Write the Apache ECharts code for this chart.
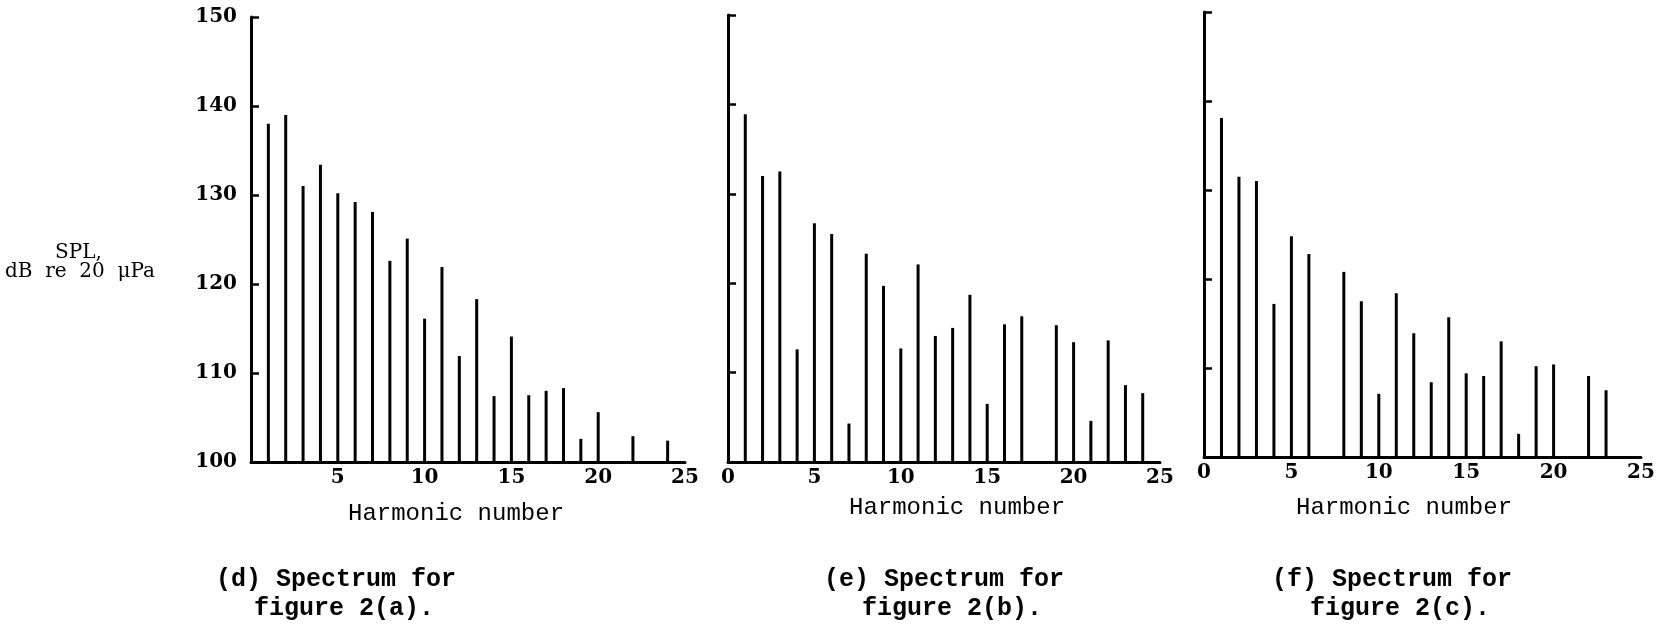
<!DOCTYPE html>
<html>
<head>
<meta charset="utf-8">
<script src="https://cdn.jsdelivr.net/npm/echarts@6/dist/echarts.min.js"></script>
<style>
  html, body { margin: 0; padding: 0; background: #fff; }
  #chart { width: 1668px; height: 624px; }
</style>
</head>
<body>
<div id="chart"></div>
<script>
// harmonic number / SPL (dB re 20 uPa)
const harmonicsD = [1, 2, 3, 4, 5, 6, 7, 8, 9, 10, 11, 12, 13, 14, 15, 16, 17, 18, 19, 20, 22, 24]
const splD = [138, 139, 131, 133.4, 130.2, 129.2, 128.1, 122.6, 125.1, 116.1, 121.9, 111.9, 118.3, 107.4, 114.1, 107.5, 108, 108.3, 102.6, 105.6, 102.9, 102.4]

const harmonicsE = [1, 2, 3, 4, 5, 6, 7, 8, 9, 10, 11, 12, 13, 14, 15, 16, 17, 19, 20, 21, 22, 23, 24]
const splE = [138.9, 132, 132.5, 112.6, 126.7, 125.5, 104.3, 123.3, 119.7, 112.7, 122.1, 114.1, 115, 118.7, 106.5, 115.4, 116.3, 115.3, 113.4, 104.6, 113.6, 108.6, 107.7]

const harmonicsF = [1, 2, 3, 4, 5, 6, 8, 9, 10, 11, 12, 13, 14, 15, 16, 17, 18, 19, 20, 22, 23]
const splF = [138.1, 131.5, 131, 117.2, 124.8, 122.8, 120.8, 117.5, 107.1, 118.4, 113.9, 108.4, 115.7, 109.4, 109.1, 113, 102.6, 110.2, 110.4, 109.1, 107.5]

const yTicks = [100, 110, 120, 130, 140, 150]
const xTicks = [0, 5, 10, 15, 20, 25]

const captions = [
  ['(d) Spectrum for', 'figure 2(a).'],
  ['(e) Spectrum for', 'figure 2(b).'],
  ['(f) Spectrum for', 'figure 2(c).']
]

const panels = [
  { x: harmonicsD, y: splD, grid: { left: 251, top: 17, width: 434, height: 445 } },
  { x: harmonicsE, y: splE, grid: { left: 728, top: 15, width: 432, height: 447 } },
  { x: harmonicsF, y: splF, grid: { left: 1204, top: 12, width: 437, height: 445 } }
]

const numFont = 'DejaVu Serif'
const monoFont = 'Liberation Mono'

// vertical spike from the 100 dB baseline up to the value
function spike (params, api) {
  const top = api.coord([api.value(0), api.value(1)])
  const base = api.coord([api.value(0), yTicks[0]])
  return {
    type: 'line',
    shape: { x1: top[0], y1: top[1], x2: base[0], y2: base[1] },
    style: { stroke: '#000', lineWidth: 3 }
  }
}

const chart = echarts.init(document.getElementById('chart'))

const options = {
  backgroundColor: '#fff',
  animation: false,
  grid: panels.map(p => p.grid),
  xAxis: panels.map((p, i) => ({
    type: 'value',
    gridIndex: i,
    min: xTicks[0],
    max: xTicks[xTicks.length - 1],
    interval: xTicks[1] - xTicks[0],
    splitLine: { show: false },
    axisTick: { show: false },
    axisLine: { show: true, lineStyle: { color: '#000', width: 3 } },
    axisLabel: {
      color: '#000',
      fontFamily: numFont,
      fontWeight: 'bold',
      fontSize: 20,
      margin: 6,
      formatter: v => (i === 0 && v === 0 ? '' : String(v))
    }
  })),
  yAxis: panels.map((p, i) => ({
    type: 'value',
    gridIndex: i,
    min: yTicks[0],
    max: yTicks[yTicks.length - 1],
    interval: yTicks[1] - yTicks[0],
    splitLine: { show: false },
    axisTick: { show: true, inside: true, length: 8, lineStyle: { color: '#000', width: 2.5 } },
    axisLine: { show: true, lineStyle: { color: '#000', width: 3 } },
    axisLabel: {
      show: i === 0,
      color: '#000',
      fontFamily: numFont,
      fontWeight: 'bold',
      fontSize: 20,
      margin: 14
    }
  })),
  series: panels.map((p, i) => ({
    type: 'custom',
    xAxisIndex: i,
    yAxisIndex: i,
    renderItem: spike,
    data: p.x.map((h, k) => [h, p.y[k]])
  })),
  graphic: [
    {
      type: 'text', left: 55, top: 243,
      style: { text: 'SPL,', fill: '#000', font: '20px "DejaVu Serif"' }
    },
    {
      type: 'text', left: 5, top: 262,
      style: { text: 'dB  re  20  \u03bcPa', fill: '#000', font: '20px "DejaVu Serif"' }
    },
    { type: 'text', left: 348, top: 502, style: { text: 'Harmonic number', fill: '#000', font: '24px "' + monoFont + '"' } },
    { type: 'text', left: 849, top: 496, style: { text: 'Harmonic number', fill: '#000', font: '24px "' + monoFont + '"' } },
    { type: 'text', left: 1296, top: 496, style: { text: 'Harmonic number', fill: '#000', font: '24px "' + monoFont + '"' } }
  ].concat(...[216, 824, 1272].map((x0, i) => [
    { type: 'text', left: x0, top: 567, style: { text: captions[i][0], fill: '#000', font: 'bold 25px "' + monoFont + '"' } },
    { type: 'text', left: x0 + 38, top: 596, style: { text: captions[i][1], fill: '#000', font: 'bold 25px "' + monoFont + '"' } }
  ]))
}

chart.setOption(options)
window.addEventListener('resize', () => {
  chart.resize()
})
</script>
</body>
</html>
